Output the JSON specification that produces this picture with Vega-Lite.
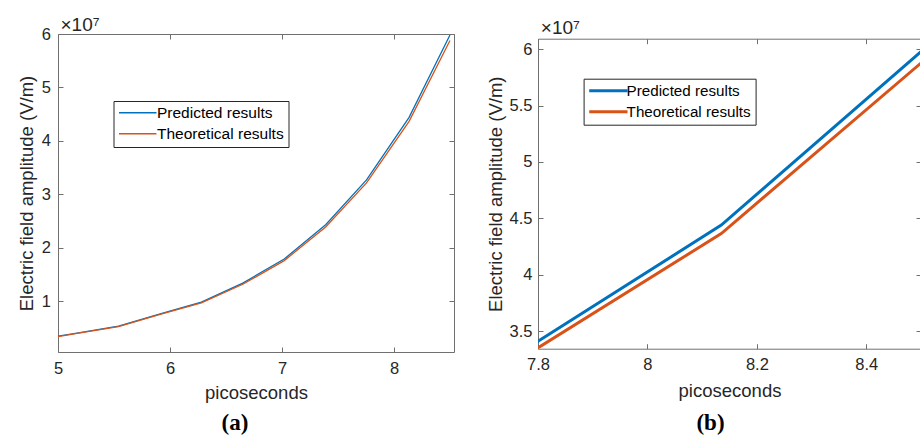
{
  "$schema": "https://vega.github.io/schema/vega-lite/v6.json",
  "background": "white",
  "padding": {"left": 17, "top": 15, "right": 0, "bottom": 0},
  "spacing": 31,
  "columns": 2,
  "align": "none",
  "resolve": {"scale": {"color": "independent"}, "legend": {"color": "independent"}},
  "config": {
    "font": "Liberation Sans",
    "view": {"stroke": null},
    "axis": {
      "grid": false,
      "domainColor": "#707070",
      "tickColor": "#707070",
      "tickSize": -5,
      "labelColor": "#262626",
      "titleColor": "#262626",
      "labelFont": "Liberation Sans",
      "titleFont": "Liberation Sans",
      "labelFontSize": 16.5,
      "titleFontSize": 18.5,
      "titleFontWeight": "normal",
      "labelFlush": false,
      "labelOverlap": false
    },
    "legend": {
      "labelFont": "Liberation Sans",
      "labelColor": "#000000",
      "strokeColor": "#262626",
      "fillColor": "#ffffff"
    }
  },
  "datasets": {
    "field": [
      {"t": 5.00, "E": 3450000, "series": "Predicted results"},
      {"t": 5.17, "E": 4050000, "series": "Predicted results"},
      {"t": 5.54, "E": 5350000, "series": "Predicted results"},
      {"t": 5.92, "E": 7700000, "series": "Predicted results"},
      {"t": 6.28, "E": 9850000, "series": "Predicted results"},
      {"t": 6.65, "E": 13400000, "series": "Predicted results"},
      {"t": 7.02, "E": 17900000, "series": "Predicted results"},
      {"t": 7.39, "E": 24300000, "series": "Predicted results"},
      {"t": 7.755, "E": 32700000, "series": "Predicted results"},
      {"t": 8.135, "E": 44400000, "series": "Predicted results"},
      {"t": 8.50, "E": 59800000, "series": "Predicted results"},
      {"t": 5.00, "E": 3390000, "series": "Theoretical results"},
      {"t": 5.17, "E": 3980000, "series": "Theoretical results"},
      {"t": 5.54, "E": 5260000, "series": "Theoretical results"},
      {"t": 5.92, "E": 7570000, "series": "Theoretical results"},
      {"t": 6.28, "E": 9680000, "series": "Theoretical results"},
      {"t": 6.65, "E": 13170000, "series": "Theoretical results"},
      {"t": 7.02, "E": 17600000, "series": "Theoretical results"},
      {"t": 7.39, "E": 23890000, "series": "Theoretical results"},
      {"t": 7.755, "E": 32140000, "series": "Theoretical results"},
      {"t": 8.135, "E": 43650000, "series": "Theoretical results"},
      {"t": 8.50, "E": 58780000, "series": "Theoretical results"}
    ]
  },
  "concat": [
    {
      "width": 396,
      "height": 318,
      "data": {"name": "field"},
      "title": {"text": "(a)", "orient": "bottom", "font": "Liberation Serif", "fontSize": 23, "fontWeight": "bold", "color": "#000000", "dx": -21, "offset": 10},
      "resolve": {"axis": {"x": "independent", "y": "independent"}},
      "layer": [
        {
          "transform": [{"filter": "datum.series === 'Predicted results'"}],
          "mark": {"type": "line", "strokeWidth": 1.3, "clip": true},
          "encoding": {
            "x": {"field": "t", "type": "quantitative", "scale": {"domain": [5, 8.536], "nice": false, "zero": false},
                  "axis": {"orient": "bottom", "values": [5, 6, 7, 8], "labelExpr": "'' + datum.value", "title": "picoseconds", "labelPadding": 13, "titleY": 46, "titleBaseline": "alphabetic"}},
            "y": {"field": "E", "type": "quantitative", "scale": {"domain": [500000, 60000000], "nice": false, "zero": false},
                  "axis": {"orient": "left", "values": [10000000, 20000000, 30000000, 40000000, 50000000, 60000000], "labelExpr": "'' + datum.value / 10000000", "title": "Electric field amplitude (V/m)", "labelPadding": 12.5, "titleX": -31.5, "titleBaseline": "middle"}},
            "color": {"field": "series", "type": "nominal",
                      "scale": {"domain": ["Predicted results", "Theoretical results"], "range": ["#0072BD", "#D95319"]},
                      "legend": {"title": null, "orient": "none", "legendX": 55.5, "legendY": 67, "symbolType": "M-1,0H5", "symbolSize": 156, "symbolStrokeWidth": 1.3, "symbolFillColor": "transparent", "labelFontSize": 15.5, "padding": 4, "rowPadding": 4, "labelOffset": 24}}
          }
        },
        {
          "transform": [{"filter": "datum.series === 'Theoretical results'"}],
          "mark": {"type": "line", "strokeWidth": 1.3, "clip": true},
          "encoding": {
            "x": {"field": "t", "type": "quantitative", "scale": {"domain": [5, 8.536], "nice": false, "zero": false},
                  "axis": {"orient": "top", "values": [5, 6, 7, 8], "labels": false, "title": "×10⁷", "titleFontSize": 19, "titleAnchor": "start", "titleAlign": "left", "titleBaseline": "alphabetic", "titleX": 2, "titleY": -4}},
            "y": {"field": "E", "type": "quantitative", "scale": {"domain": [500000, 60000000], "nice": false, "zero": false},
                  "axis": {"orient": "right", "values": [10000000, 20000000, 30000000, 40000000, 50000000, 60000000], "labels": false, "title": null}},
            "color": {"field": "series", "type": "nominal",
                      "scale": {"domain": ["Predicted results", "Theoretical results"], "range": ["#0072BD", "#D95319"]},
                      "legend": {"title": null, "orient": "none", "legendX": 55.5, "legendY": 67, "symbolType": "M-1,0H5", "symbolSize": 156, "symbolStrokeWidth": 1.3, "symbolFillColor": "transparent", "labelFontSize": 15.5, "padding": 4, "rowPadding": 4, "labelOffset": 24}}
          }
        }
      ]
    },
    {
      "width": 383,
      "height": 314.7,
      "data": {"name": "field"},
      "title": {"text": "(b)", "orient": "bottom", "font": "Liberation Serif", "fontSize": 23, "fontWeight": "bold", "color": "#000000", "dx": -19, "offset": 12},
      "resolve": {"axis": {"x": "independent", "y": "independent"}},
      "layer": [
        {
          "transform": [{"filter": "datum.series === 'Predicted results'"}],
          "mark": {"type": "line", "strokeWidth": 3, "clip": true},
          "encoding": {
            "x": {"field": "t", "type": "quantitative", "scale": {"domain": [7.8, 8.5], "nice": false, "zero": false},
                  "axis": {"orient": "bottom", "values": [7.8, 8, 8.2, 8.4], "labelExpr": "'' + datum.value", "title": "picoseconds", "labelPadding": 13, "titleY": 47.3, "titleBaseline": "alphabetic"}},
            "y": {"field": "E", "type": "quantitative", "scale": {"domain": [33430000, 60940000], "range": [314.7, 4.7], "nice": false, "zero": false},
                  "axis": {"orient": "left", "values": [35000000, 40000000, 45000000, 50000000, 55000000, 60000000], "labelExpr": "'' + datum.value / 10000000", "title": "Electric field amplitude (V/m)", "labelPadding": 11, "titleX": -43, "titleBaseline": "middle"}},
            "color": {"field": "series", "type": "nominal",
                      "scale": {"domain": ["Predicted results", "Theoretical results"], "range": ["#0072BD", "#D95319"]},
                      "legend": {"title": null, "orient": "none", "legendX": 45.6, "legendY": 44.7, "symbolType": "M-1,0H5", "symbolSize": 163, "symbolStrokeWidth": 3, "symbolFillColor": "transparent", "labelFontSize": 15.2, "padding": 4, "rowPadding": 4, "labelOffset": 23}}
          }
        },
        {
          "transform": [{"filter": "datum.series === 'Theoretical results'"}],
          "mark": {"type": "line", "strokeWidth": 3, "clip": true},
          "encoding": {
            "x": {"field": "t", "type": "quantitative", "scale": {"domain": [7.8, 8.5], "nice": false, "zero": false},
                  "axis": {"orient": "top", "offset": -4.7, "values": [7.8, 8, 8.2, 8.4], "labels": false, "title": "×10⁷", "titleFontSize": 19, "titleAnchor": "start", "titleAlign": "left", "titleBaseline": "alphabetic", "titleX": 2.3, "titleY": -5}},
            "y": {"field": "E", "type": "quantitative", "scale": {"domain": [33430000, 60940000], "range": [314.7, 4.7], "nice": false, "zero": false},
                  "axis": {"orient": "right", "values": [35000000, 40000000, 45000000, 50000000, 55000000, 60000000], "labels": false, "title": null}},
            "color": {"field": "series", "type": "nominal",
                      "scale": {"domain": ["Predicted results", "Theoretical results"], "range": ["#0072BD", "#D95319"]},
                      "legend": {"title": null, "orient": "none", "legendX": 45.6, "legendY": 44.7, "symbolType": "M-1,0H5", "symbolSize": 163, "symbolStrokeWidth": 3, "symbolFillColor": "transparent", "labelFontSize": 15.2, "padding": 4, "rowPadding": 4, "labelOffset": 23}}
          }
        }
      ]
    }
  ]
}
